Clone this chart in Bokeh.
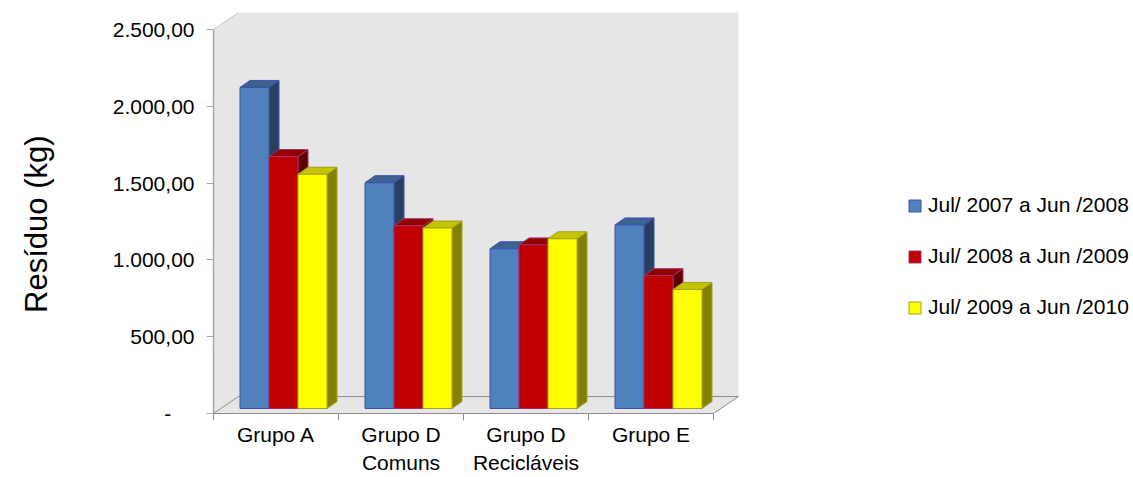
from bokeh.plotting import figure
from bokeh.models import Range1d, FixedTicker, Legend, LegendItem, ColumnDataSource
from bokeh.embed import file_html
from bokeh.resources import INLINE

# ---------------- data ----------------
categories = ["Grupo A", "Grupo D\nComuns", "Grupo D\nRecicláveis", "Grupo E"]
series_names = ["Jul/ 2007 a Jun /2008", "Jul/ 2008 a Jun /2009", "Jul/ 2009 a Jun /2010"]
s_2007_2008 = [2090, 1470, 1040, 1195]
s_2008_2009 = [1640, 1190, 1065, 865]
s_2009_2010 = [1525, 1175, 1105, 775]
y_ticks = [0, 500, 1000, 1500, 2000, 2500]

series = [s_2007_2008, s_2008_2009, s_2009_2010]

# ---------------- styles ----------------
FONT = "Liberation Sans"
front_colors = ["#4f81bd", "#c00000", "#ffff00"]
top_colors = ["#3c6290", "#930000", "#c4c400"]
side_colors = ["#28405f", "#5e0000", "#828200"]
edge_colors = ["#3e4fae", "#a03070", "#a6a020"]

PX_PER_X = 125.0          # pixels per category unit
PX_PER_Y = 0.154          # pixels per kg
U = 1.0 / PX_PER_Y        # kg per pixel

BACK_DX, BACK_DY = 25 / PX_PER_X, 17 * U        # wall depth offset
BAR_DX0, BAR_DY0 = 7.5 / PX_PER_X, 5 * U        # bar front plane offset
BAR_DX, BAR_DY = 10 / PX_PER_X, 7 * U           # bar depth
BAR_W = 29 / PX_PER_X

p = figure(width=1133, height=477, output_backend="svg", toolbar_location=None,
           x_range=Range1d(0, 920 / PX_PER_X), y_range=Range1d(0, 414 / PX_PER_Y),
           min_border_left=213, min_border_right=0, min_border_top=0, min_border_bottom=63)
p.outline_line_color = None
p.xgrid.visible = False
p.ygrid.visible = False
p.background_fill_color = "white"

# ---------------- walls / floor ----------------
ncat = len(categories)
top = y_ticks[-1]
p.patch([0, 0, BACK_DX, ncat + BACK_DX, ncat + BACK_DX, ncat],
        [0, top, top + BACK_DY, top + BACK_DY, BACK_DY, 0],
        fill_color="#e6e6e6", line_color=None)
p.line([0, BACK_DX], [top, top + BACK_DY], line_color="#c8c8c8", line_width=1)
p.line([0, BACK_DX, ncat + BACK_DX, ncat], [0, BACK_DY, BACK_DY, 0],
       line_color="#8c8c8c", line_width=1)

# ---------------- 3D bars ----------------
front_renderers = []
for k, vals in enumerate(series):
    x0s, x1s, b, t = [], [], [], []
    side_xs, side_ys, top_xs, top_ys = [], [], [], []
    for i, v in enumerate(vals):
        cx = i + 0.5 + BAR_DX0
        x0 = cx + (k - 1.5) * BAR_W
        x1 = x0 + BAR_W
        y0 = BAR_DY0
        y1 = BAR_DY0 + v
        x0s.append(x0); x1s.append(x1); b.append(y0); t.append(y1)
        side_xs.append([x1, x1 + BAR_DX, x1 + BAR_DX, x1])
        side_ys.append([y0, y0 + BAR_DY, y1 + BAR_DY, y1])
        top_xs.append([x0, x0 + BAR_DX, x1 + BAR_DX, x1])
        top_ys.append([y1, y1 + BAR_DY, y1 + BAR_DY, y1])
    p.patches(side_xs, side_ys, fill_color=side_colors[k], line_color=edge_colors[k], line_width=1)
    p.patches(top_xs, top_ys, fill_color=top_colors[k], line_color=edge_colors[k], line_width=1)
    src = ColumnDataSource(dict(left=x0s, right=x1s, bottom=b, top=t))
    r = p.quad(left="left", right="right", bottom="bottom", top="top", source=src,
               fill_color=front_colors[k], line_color=edge_colors[k], line_width=1)
    front_renderers.append(r)

# ---------------- axes ----------------
def fmt(v):
    if v == 0:
        return "-" + "\u00a0" * 4
    s = f"{v:,.2f}"
    return s.replace(",", "X").replace(".", ",").replace("X", ".")

ya = p.yaxis[0]
ya.ticker = FixedTicker(ticks=y_ticks)
ya.bounds = (0, y_ticks[-1])
ya.major_label_overrides = {v: fmt(v) for v in y_ticks}
ya.axis_line_color = "#a8a8a8"
ya.axis_line_width = 1.5
ya.major_tick_line_color = "#a8a8a8"
ya.major_tick_out = 7
ya.major_tick_in = 0
ya.minor_tick_line_color = None
ya.major_label_standoff = 12
ya.major_label_text_font = FONT
ya.major_label_text_font_size = "21px"
ya.major_label_text_color = "#000000"
ya.axis_label = "Resíduo (kg)" + "\u00a0" * 4
ya.axis_label_text_font = FONT
ya.axis_label_text_font_size = "31px"
ya.axis_label_text_font_style = "normal"
ya.axis_label_text_color = "#000000"
ya.axis_label_standoff = 56

xa = p.xaxis[0]
centers = [i + 0.5 for i in range(ncat)]
xa.ticker = FixedTicker(ticks=centers, minor_ticks=list(range(ncat + 1)))
xa.bounds = (0, ncat)
xa.major_label_overrides = {c: lab for c, lab in zip(centers, categories)}
xa.axis_line_color = "#8c8c8c"
xa.major_tick_line_color = None
xa.major_tick_out = 7
xa.major_tick_in = 0
xa.minor_tick_line_color = "#8c8c8c"
xa.minor_tick_out = 7
xa.minor_tick_in = 0
xa.major_label_standoff = 2
xa.major_label_text_font = FONT
xa.major_label_text_font_size = "21px"
xa.major_label_text_color = "#000000"
xa.major_label_text_line_height = 1.24

# ---------------- legend ----------------
legend = Legend(items=[LegendItem(label=n, renderers=[r]) for n, r in zip(series_names, front_renderers)],
                location=(694, 94), orientation="vertical",
                glyph_width=15, glyph_height=15, label_height=20, spacing=27,
                label_standoff=6, padding=0, margin=0,
                border_line_color=None, background_fill_alpha=0,
                label_text_font=FONT, label_text_font_size="21px", label_text_color="#000000")
p.add_layout(legend)

open("out.html", "w").write(file_html(p, INLINE))
